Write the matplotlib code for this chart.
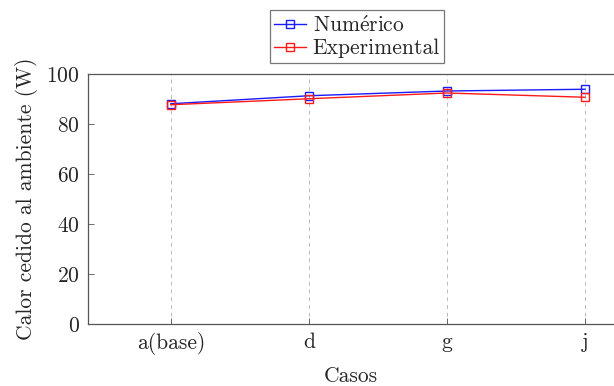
import matplotlib
matplotlib.use("Agg")
import matplotlib.pyplot as plt

plt.rcParams['font.family'] = ['cmr10', 'DejaVu Serif']
plt.rcParams['axes.formatter.use_mathtext'] = True
plt.rcParams['mathtext.fontset'] = 'cm'
plt.rcParams['text.color'] = '#262626'
plt.rcParams['xtick.labelcolor'] = '#262626'
plt.rcParams['ytick.labelcolor'] = '#262626'
plt.rcParams['axes.labelcolor'] = '#262626'

categories = ['a(base)', 'd', 'g', 'j']
numerico = [88.1, 91.3, 93.2, 93.9]
experimental = [87.7, 90.1, 92.4, 90.7]
yticks = [0, 20, 40, 60, 80, 100]
labels = [r'Num$\mathrm{\acute{e}}$rico', 'Experimental']

FS = 15.5
fig = plt.figure(figsize=(6.14, 3.86), dpi=100)
ax = fig.add_axes([88/614, 1-324/386, 1-88/614, (324-74)/386])

x = list(range(len(categories)))
ax.plot(x, numerico, color='#1a1aff', marker='s', markersize=5.5, markerfacecolor='none',
        markeredgewidth=1.0, linewidth=1.0, label=labels[0], zorder=3)
ax.plot(x, experimental, color='#ff1a1a', marker='s', markersize=5.5, markerfacecolor='none',
        markeredgewidth=1.0, linewidth=1.0, label=labels[1], zorder=3)

ax.set_xlim(-0.6, (614-171)/138)
ax.set_ylim(0, 100)
ax.set_xticks(x)
ax.set_xticklabels(categories)
ax.set_yticks(yticks)
ax.tick_params(direction='in', length=4, width=0.6, color='#555555', labelsize=FS, pad=6)
ax.grid(axis='x', linestyle=(0, (4, 4)), color='#bbbbbb', linewidth=0.7)
for s in ['left', 'bottom', 'top']:
    ax.spines[s].set_color('#555555')
    ax.spines[s].set_linewidth(0.9)
ax.spines['right'].set_visible(False)

ax.set_xlabel('Casos', fontsize=FS, labelpad=8)
ax.set_ylabel('Calor cedido al ambiente (W)', fontsize=FS, labelpad=6)

leg = ax.legend(loc='lower center', bbox_to_anchor=((357-88)/526, 1.045), fontsize=FS,
                frameon=True, fancybox=False, edgecolor='#555555', borderpad=0.2,
                handlelength=1.5, handletextpad=0.3, labelspacing=0.15, borderaxespad=0)
leg.get_frame().set_linewidth(0.9)

fig.savefig('out.png', dpi=100)
